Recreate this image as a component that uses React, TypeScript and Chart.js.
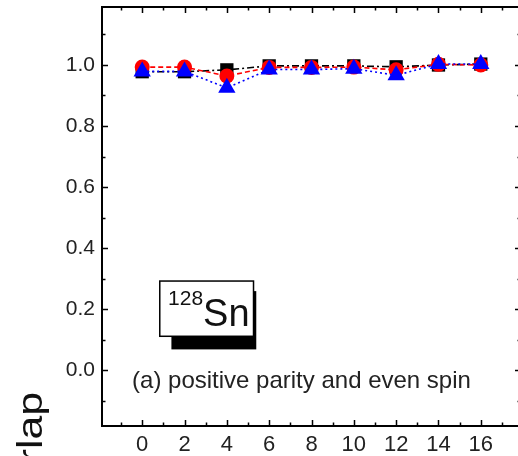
import { useEffect, useRef } from "react";
import { Chart, registerables } from "chart.js";

Chart.register(...registerables);

const spins = [0, 2, 4, 6, 8, 10, 12, 14, 16];
const overlapBlack = [0.978, 0.978, 0.984, 0.997, 0.997, 0.997, 0.994, 1.0, 1.003];
const overlapRed = [0.993, 0.993, 0.964, 0.992, 0.992, 0.993, 0.984, 1.002, 1.0];
const overlapBlue = [0.979, 0.979, 0.925, 0.985, 0.985, 0.988, 0.966, 1.003, 1.003];

const xTickLabels = [0, 2, 4, 6, 8, 10, 12, 14, 16];
const xMinorTicks = [-1, 1, 3, 5, 7, 9, 11, 13, 15, 17];
const yTickLabels = [0, 0.2, 0.4, 0.6, 0.8, 1.0];
const yMinorTicks = [-0.1, 0.1, 0.3, 0.5, 0.7, 0.9, 1.1];

const xRange = [-1.9, 17.9];
const yRange = [-0.183, 1.19];

const nucleusMass = "128";
const nucleusSymbol = "Sn";
const panelCaption = "(a) positive parity and even spin";
const yTitle = "Overlap";

const FONT = "'Liberation Sans', Arial, sans-serif";
const TEXT = "#222";

const toPts = (ys: number[]) => spins.map((x, i) => ({ x, y: ys[i] }));

const zeroPad = (s: any) => {
  s.paddingTop = 0;
  s.paddingBottom = 0;
  s.paddingLeft = 0;
  s.paddingRight = 0;
};

const framePlugin = {
  id: "frameTicks",
  beforeDatasetsDraw(chart: any) {
    const { ctx, chartArea: a, scales } = chart;
    const xs = scales.x;
    const ys = scales.y;
    ctx.save();
    ctx.strokeStyle = "#000";
    ctx.lineWidth = 2;
    ctx.strokeRect(a.left, a.top, a.right - a.left, a.bottom - a.top);
    ctx.lineWidth = 1.5;
    const xTick = (v: number, len: number) => {
      const px = Math.round(xs.getPixelForValue(v)) + 0.5;
      ctx.beginPath();
      ctx.moveTo(px, a.bottom);
      ctx.lineTo(px, a.bottom - len);
      ctx.moveTo(px, a.top);
      ctx.lineTo(px, a.top + len);
      ctx.stroke();
    };
    const yTick = (v: number, len: number) => {
      const py = Math.round(ys.getPixelForValue(v)) + 0.5;
      ctx.beginPath();
      ctx.moveTo(a.left, py);
      ctx.lineTo(a.left + len, py);
      ctx.moveTo(a.right, py);
      ctx.lineTo(a.right - len, py);
      ctx.stroke();
    };
    xTickLabels.forEach((v) => xTick(v, 6));
    xMinorTicks.forEach((v) => xTick(v, 3.5));
    yTickLabels.forEach((v) => yTick(v, 6));
    yMinorTicks.forEach((v) => yTick(v, 3.5));
    ctx.restore();
  },
  afterDatasetsDraw(chart: any) {
    const { ctx, scales } = chart;
    const xs = scales.x;
    const ys = scales.y;
    const X = (v: number) => xs.getPixelForValue(v);
    const Y = (v: number) => ys.getPixelForValue(v);
    ctx.save();
    // shadow
    ctx.fillStyle = "#000";
    ctx.fillRect(X(1.38), Y(0.259), X(5.39) - X(1.38), Y(0.068) - Y(0.259));
    // white box
    ctx.fillStyle = "#fff";
    ctx.fillRect(X(0.83), Y(0.292), X(5.26) - X(0.83), Y(0.111) - Y(0.292));
    ctx.strokeStyle = "#000";
    ctx.lineWidth = 1.5;
    ctx.strokeRect(X(0.83), Y(0.292), X(5.26) - X(0.83), Y(0.111) - Y(0.292));
    // label text
    ctx.fillStyle = "#111";
    ctx.textBaseline = "alphabetic";
    ctx.textAlign = "left";
    ctx.font = `21px ${FONT}`;
    const mx = X(1.22);
    ctx.fillText(nucleusMass, mx, Y(0.214));
    const mw = ctx.measureText(nucleusMass).width;
    ctx.font = `38px ${FONT}`;
    ctx.fillText(nucleusSymbol, mx + mw, Y(0.144));
    // caption
    ctx.fillStyle = TEXT;
    ctx.font = `24px ${FONT}`;
    ctx.textBaseline = "middle";
    ctx.fillText(panelCaption, X(-0.48), Y(-0.036));
    // y title
    ctx.save();
    ctx.translate(42, 392);
    ctx.rotate(-Math.PI / 2);
    ctx.scale(1.22, 1);
    ctx.textAlign = "right";
    ctx.textBaseline = "alphabetic";
    ctx.font = `35px ${FONT}`;
    ctx.fillStyle = "#111";
    ctx.fillText(yTitle, 0, 0);
    ctx.restore();
    ctx.restore();
  },
};

export default function App() {
  const ref = useRef<HTMLCanvasElement | null>(null);
  useEffect(() => {
    if (!ref.current) return;
    const chart = new Chart(ref.current, {
      type: "line",
      data: {
        datasets: [
          {
            label: "blue",
            data: toPts(overlapBlue),
            borderColor: "#0000ff",
            backgroundColor: "#0000ff",
            borderWidth: 1.6,
            borderDash: [2, 3],
            pointStyle: "triangle",
            pointRadius: 10,
            pointBorderWidth: 0,
            pointBackgroundColor: "#0000ff",
            pointBorderColor: "#0000ff",
          },
          {
            label: "red",
            data: toPts(overlapRed),
            borderColor: "#ff0000",
            backgroundColor: "#ff0000",
            borderWidth: 1.6,
            borderDash: [5, 3],
            pointStyle: "circle",
            pointRadius: 7.5,
            pointBorderWidth: 0,
            pointBackgroundColor: "#ff0000",
            pointBorderColor: "#ff0000",
          },
          {
            label: "black",
            data: toPts(overlapBlack),
            borderColor: "#000",
            backgroundColor: "#000",
            borderWidth: 1.6,
            borderDash: [7, 3, 2, 3],
            pointStyle: "rect",
            pointRadius: 9.4,
            pointBorderWidth: 0,
            pointBackgroundColor: "#000",
            pointBorderColor: "#000",
          },
        ],
      },
      options: {
        animation: false,
        responsive: false,
        devicePixelRatio: 1,
        layout: { autoPadding: false, padding: { top: 7, right: 1, left: 0, bottom: 0 } },
        plugins: { legend: { display: false }, tooltip: { enabled: false } },
        scales: {
          x: {
            type: "linear",
            min: xRange[0],
            max: xRange[1],
            grid: { display: false, drawTicks: false },
            border: { display: false },
            afterBuildTicks: (s: any) => {
              s.ticks = xTickLabels.map((v) => ({ value: v }));
            },
            afterFit: (s: any) => {
              s.height = 30;
              zeroPad(s);
            },
            ticks: {
              autoSkip: false,
              maxRotation: 0,
              padding: 6,
              color: TEXT,
              font: { family: FONT, size: 22 },
              callback: (v: any) => String(v),
            },
          },
          y: {
            type: "linear",
            min: yRange[0],
            max: yRange[1],
            grid: { display: false, drawTicks: false },
            border: { display: false },
            afterBuildTicks: (s: any) => {
              s.ticks = yTickLabels.map((v) => ({ value: v }));
            },
            afterFit: (s: any) => {
              s.width = 102;
              zeroPad(s);
            },
            ticks: {
              autoSkip: false,
              padding: 7,
              color: TEXT,
              font: { family: FONT, size: 21 },
              callback: (v: any) => Number(v).toFixed(1),
            },
          },
        },
      },
      plugins: [framePlugin],
    });
    return () => chart.destroy();
  }, []);
  return (
    <div
      style={{
        position: "absolute",
        left: 0,
        top: 0,
        width: 518,
        height: 456,
        overflow: "hidden",
        background: "#fff",
      }}
    >
      <canvas ref={ref} width={522} height={456} style={{ display: "block" }} />
    </div>
  );
}
